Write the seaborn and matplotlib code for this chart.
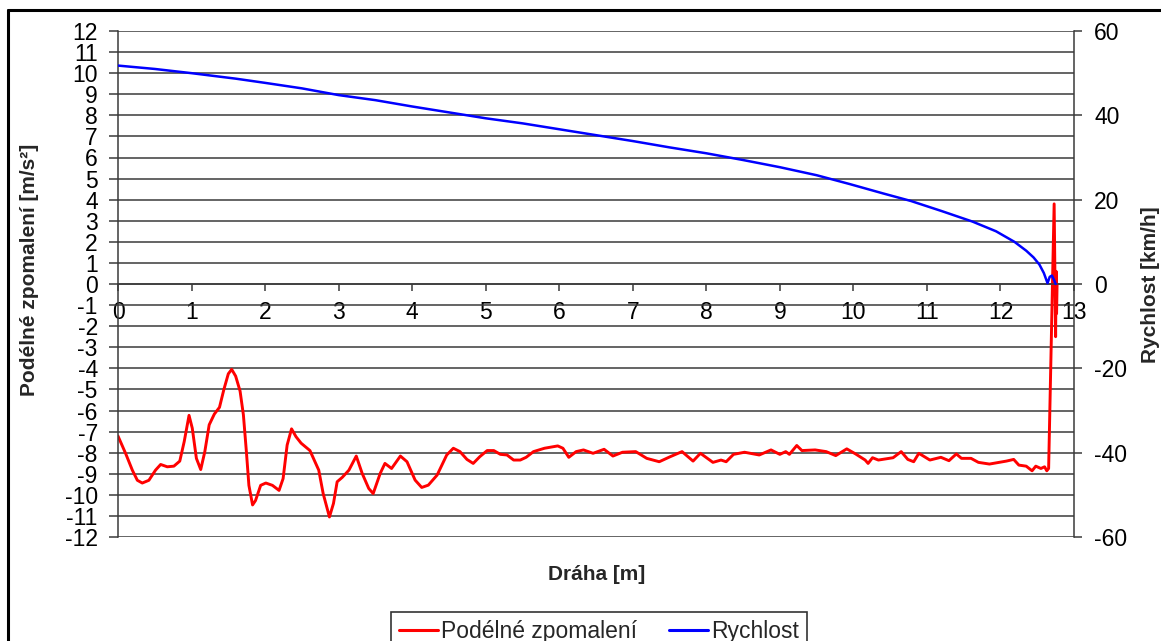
import matplotlib
matplotlib.use("Agg")
import matplotlib.pyplot as plt
from matplotlib.lines import Line2D
import seaborn as sns
import pandas as pd

# Longitudinal deceleration [m/s^2] vs distance [m]
decel_x = [0.000, 0.104, 0.195, 0.263, 0.330, 0.420, 0.510, 0.580, 0.670, 0.760, 0.840, 0.900,
           0.966, 1.010, 1.066, 1.125, 1.180, 1.240, 1.310, 1.380, 1.440, 1.500, 1.546, 1.600,
           1.660, 1.705, 1.746, 1.780, 1.830, 1.870, 1.940, 2.010, 2.100, 2.190, 2.245, 2.300,
           2.360, 2.420, 2.490, 2.610, 2.730, 2.790, 2.875, 2.930, 2.980, 3.050, 3.140, 3.240,
           3.320, 3.410, 3.470, 3.566, 3.630, 3.720, 3.840, 3.930, 4.040, 4.130, 4.220, 4.340,
           4.470, 4.560, 4.650, 4.745, 4.830, 4.920, 5.020, 5.110, 5.200, 5.290, 5.380, 5.470,
           5.550, 5.650, 5.800, 5.980, 6.050, 6.130, 6.230, 6.330, 6.460, 6.610, 6.730, 6.860,
           7.040, 7.190, 7.360, 7.510, 7.670, 7.820, 7.920, 8.090, 8.200, 8.270, 8.370, 8.520,
           8.720, 8.880, 9.000, 9.080, 9.130, 9.230, 9.300, 9.480, 9.630, 9.760, 9.910, 10.030,
           10.160, 10.200, 10.260, 10.340, 10.540, 10.650, 10.740, 10.820, 10.890, 11.040, 11.190,
           11.300, 11.400, 11.470, 11.600, 11.700, 11.850, 11.950, 12.080, 12.180, 12.250, 12.350,
           12.430, 12.480, 12.550, 12.600, 12.630, 12.655, 12.730, 12.750, 12.757, 12.763, 12.770]
decel_y = [-7.21, -8.04, -8.83, -9.31, -9.44, -9.31, -8.83, -8.56, -8.67, -8.64, -8.40, -7.48,
           -6.23, -6.84, -8.27, -8.80, -7.96, -6.68, -6.17, -5.85, -5.00, -4.26, -4.05, -4.37,
           -5.08, -6.20, -7.96, -9.55, -10.48, -10.27, -9.55, -9.44, -9.55, -9.79, -9.23, -7.64,
           -6.87, -7.24, -7.55, -7.90, -8.83, -9.94, -11.05, -10.41, -9.38, -9.17, -8.83, -8.16,
           -8.98, -9.70, -9.94, -8.98, -8.51, -8.75, -8.16, -8.43, -9.30, -9.65, -9.54, -9.06,
           -8.11, -7.79, -7.95, -8.32, -8.51, -8.19, -7.90, -7.90, -8.08, -8.11, -8.35, -8.35,
           -8.22, -7.95, -7.79, -7.68, -7.79, -8.22, -7.95, -7.87, -8.03, -7.84, -8.16, -7.98,
           -7.95, -8.27, -8.43, -8.19, -7.95, -8.40, -8.03, -8.46, -8.35, -8.43, -8.08, -7.98,
           -8.11, -7.87, -8.08, -7.95, -8.08, -7.66, -7.90, -7.87, -7.95, -8.14, -7.82, -8.06,
           -8.35, -8.51, -8.24, -8.35, -8.24, -7.95, -8.32, -8.43, -8.03, -8.35, -8.22,
           -8.38, -8.06, -8.27, -8.27, -8.46, -8.54, -8.48, -8.40, -8.32, -8.59, -8.64,
           -8.86, -8.64, -8.75, -8.67, -8.86, -8.75, 3.80, -2.50, 0.60, -1.40, 0.00]

# Speed [km/h] vs distance [m]
speed_x = [0.0, 0.5, 1.0, 1.6, 2.0, 2.5, 3.0, 3.5, 4.0, 4.5, 5.0, 5.5, 6.0, 6.5, 7.0, 7.5, 8.0, 8.5,
           9.0, 9.5, 9.95, 10.4, 10.78, 11.2, 11.62, 11.94, 12.19, 12.35, 12.45, 12.53, 12.59,
           12.64, 12.67, 12.70, 12.73, 12.75]
speed_y = [51.8, 51.0, 50.0, 48.7, 47.7, 46.4, 44.8, 43.6, 42.1, 40.7, 39.3, 38.1, 36.7, 35.3, 33.9,
           32.4, 31.0, 29.4, 27.7, 25.8, 23.7, 21.5, 19.7, 17.3, 14.8, 12.5, 10.0, 7.9, 6.3, 4.6,
           2.6, 0.2, 1.7, 2.0, 0.9, 0.0]

series_labels = ["Podélné zpomalení", "Rychlost"]
x_ticks = list(range(0, 14))
left_ticks = list(range(-12, 13))
right_ticks = list(range(-60, 61, 20))

sns.set_theme(style="white")
plt.rcParams["font.family"] = ["Liberation Sans", "DejaVu Sans"]

W, H = 1161, 641
fig = plt.figure(figsize=(W / 100, H / 100), dpi=100)
ax = fig.add_axes([118 / W, 1 - 537 / H, (1074 - 118) / W, (537 - 31) / H])
ax2 = ax.twinx()

df_d = pd.DataFrame({"x": decel_x, "y": decel_y})
df_s = pd.DataFrame({"x": speed_x, "y": speed_y})

sns.lineplot(data=df_d, x="x", y="y", ax=ax, color="#FF0000", linewidth=2.1,
             sort=False, estimator=None, legend=False)
sns.lineplot(data=df_s, x="x", y="y", ax=ax2, color="#0000FF", linewidth=1.8,
             sort=False, estimator=None, legend=False)
for ln in ax.lines + ax2.lines:
    ln.set_solid_joinstyle("round")
    ln.set_solid_capstyle("round")

ax.set_xlim(0, 13)
ax.set_ylim(-12, 12)
ax2.set_ylim(-60, 60)

gridc = "#3a3a3a"
ax.set_yticks(left_ticks)
ax.set_yticklabels([str(v) for v in left_ticks])
ax.yaxis.grid(True, color=gridc, linewidth=1.1)
ax.xaxis.grid(False)
ax.set_xticks(x_ticks)
ax.set_xticklabels([str(v) for v in x_ticks])
ax2.set_yticks(right_ticks)
ax2.set_yticklabels([str(v) for v in right_ticks])
ax2.grid(False)

for a in (ax, ax2):
    a.set_xlabel("")
    a.set_ylabel("")
    for s in a.spines.values():
        s.set_visible(False)

ax.spines["left"].set_visible(True)
ax.spines["left"].set_color(gridc)
ax.spines["left"].set_linewidth(1.1)
ax.spines["bottom"].set_visible(True)
ax.spines["bottom"].set_position(("data", 0))
ax.spines["bottom"].set_color(gridc)
ax.spines["bottom"].set_linewidth(1.1)
ax2.spines["right"].set_visible(True)
ax2.spines["right"].set_color(gridc)
ax2.spines["right"].set_linewidth(1.1)

ax.tick_params(axis="y", which="both", left=True, right=False, direction="out", length=6.5,
               width=1.1, color=gridc, pad=8, labelsize=16.5, labelcolor="black")
ax.tick_params(axis="x", which="both", bottom=True, top=False, direction="out", length=5,
               width=1.1, color=gridc, pad=7, labelsize=16.5, labelcolor="black")
ax2.tick_params(axis="y", which="both", right=True, left=False, direction="out", length=5.5,
                width=1.1, color=gridc, pad=9, labelsize=16.5, labelcolor="black")

# axis titles
fig.text(597 / W, 1 - 575 / H, "Dráha [m]", ha="center", va="center",
         fontsize=15, fontweight="bold")
fig.text(30 / W, 1 - 270 / H, "Podélné zpomalení [m/s²]", ha="center", va="center",
         rotation=90, fontsize=15, fontweight="bold")
fig.text(1150 / W, 1 - 285 / H, "Rychlost [km/h]", ha="center", va="center",
         rotation=90, fontsize=15, fontweight="bold")

# legend
handles = [Line2D([], [], color="#FF0000", linewidth=2.2),
           Line2D([], [], color="#0000FF", linewidth=2.2)]
leg = fig.legend(handles, series_labels, loc="upper center", ncol=2,
                 bbox_to_anchor=(599 / W, 1 - 612 / H), frameon=True, fancybox=False,
                 shadow=False, fontsize=16.5, handlelength=1.7, handletextpad=0.15,
                 columnspacing=1.4, borderpad=0.35, borderaxespad=0)
leg.get_frame().set_edgecolor("black")
leg.get_frame().set_linewidth(1.2)

# outer chart frame
fig.add_artist(Line2D([8 / W, 1.01], [1 - 10 / H, 1 - 10 / H], transform=fig.transFigure,
                      color="black", linewidth=2.2))
fig.add_artist(Line2D([8 / W, 8 / W], [1 - 10 / H, -0.01], transform=fig.transFigure,
                      color="black", linewidth=2.2))

fig.savefig("out.png", dpi=100)
